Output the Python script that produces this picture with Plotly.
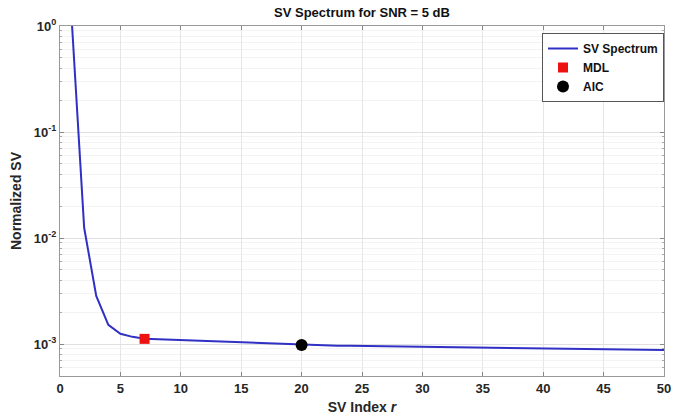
import numpy as np
import plotly.graph_objects as go

sv_index = list(range(1, 51))
sv_values = [
    1.0, 0.0125, 0.00285, 0.00152, 0.00125, 0.00117, 0.00112, 0.00111, 0.00110, 0.00108,
    0.00107, 0.00106, 0.00105, 0.00104, 0.00103, 0.00102, 0.00101, 0.00100, 0.00099, 0.00098,
    0.000975, 0.000970, 0.000966, 0.000962, 0.000959, 0.000955, 0.000952, 0.000948, 0.000945, 0.000942,
    0.000938, 0.000935, 0.000930, 0.000925, 0.000920, 0.000918, 0.000916, 0.000914, 0.000912, 0.000910,
    0.000906, 0.000902, 0.000899, 0.000896, 0.000893, 0.000890, 0.000887, 0.000884, 0.000881, 0.000878,
]
mdl_r = [7]
mdl_v = [0.00112]
aic_r = [20]
aic_v = [0.00098]

x_ticks = list(range(0, 51, 5))
y_tickvals = [1e-3, 1e-2, 1e-1, 1]
y_ticktext = ["10<sup>-3</sup>", "10<sup>-2</sup>", "10<sup>-1</sup>", "10<sup>0</sup>"]

minor_vals = [m * 10.0 ** e for e in range(-4, 1) for m in range(2, 10)]

FAM = "Liberation Sans, Arial, sans-serif"

fig = go.Figure()
fig.add_trace(go.Scatter(x=sv_index, y=sv_values, mode="lines", name="SV Spectrum",
                         line=dict(color="#3030c4", width=2)))
fig.add_trace(go.Scatter(x=mdl_r, y=mdl_v, mode="markers", name="MDL",
                         marker=dict(symbol="square", color="#ee1111", size=10)))
fig.add_trace(go.Scatter(x=aic_r, y=aic_v, mode="markers", name="AIC",
                         marker=dict(symbol="circle", color="black", size=12)))

fig.update_layout(
    width=673, height=417,
    margin=dict(l=60, r=9, t=26, b=41),
    paper_bgcolor="white", plot_bgcolor="white",
    font=dict(family=FAM, size=12, color="#262626", weight="bold"),
    title=dict(text="SV Spectrum for SNR = 5 dB", x=0.5 * (60 + 664) / 673, xanchor="center",
               y=0.97, yanchor="middle", automargin=False,
               font=dict(family=FAM, size=13, color="#111", weight="bold")),
    showlegend=True,
    legend=dict(x=1.0, y=0.98, xanchor="right", yanchor="top",
                bgcolor="white", bordercolor="#555", borderwidth=1,
                font=dict(family=FAM, size=12, color="#111", weight="bold"),
                tracegroupgap=0, itemwidth=30),
)
fig.update_xaxes(
    range=[0, 50], tickvals=x_ticks, ticks="inside", ticklen=4, tickcolor="#888",
    showgrid=True, gridcolor="#e6e6e6", gridwidth=1, automargin=False,
    showline=True, linecolor="#999", linewidth=1, mirror="ticks", zeroline=False,
    title=dict(text="SV Index <i>r</i>", standoff=7,
               font=dict(family=FAM, size=14, color="#262626", weight="bold")),
    tickfont=dict(family=FAM, size=13, color="#262626", weight="bold"),
)
fig.update_yaxes(
    type="log", range=[np.log10(5e-4), 0], tickvals=y_tickvals, ticktext=y_ticktext,
    ticks="inside", ticklen=4, tickcolor="#888", automargin=False,
    showgrid=True, gridcolor="#e0e0e0", gridwidth=1,
    minor=dict(tickvals=minor_vals, ticks="inside", ticklen=2, tickcolor="#aaa",
               showgrid=True, gridcolor="#f3f3f3"),
    showline=True, linecolor="#999", linewidth=1, mirror="ticks", zeroline=False,
    title=dict(text="Normalized SV", standoff=8,
               font=dict(family=FAM, size=14, color="#262626", weight="bold")),
    tickfont=dict(family=FAM, size=13, color="#262626", weight="bold"),
)

fig.write_html("out.html")
